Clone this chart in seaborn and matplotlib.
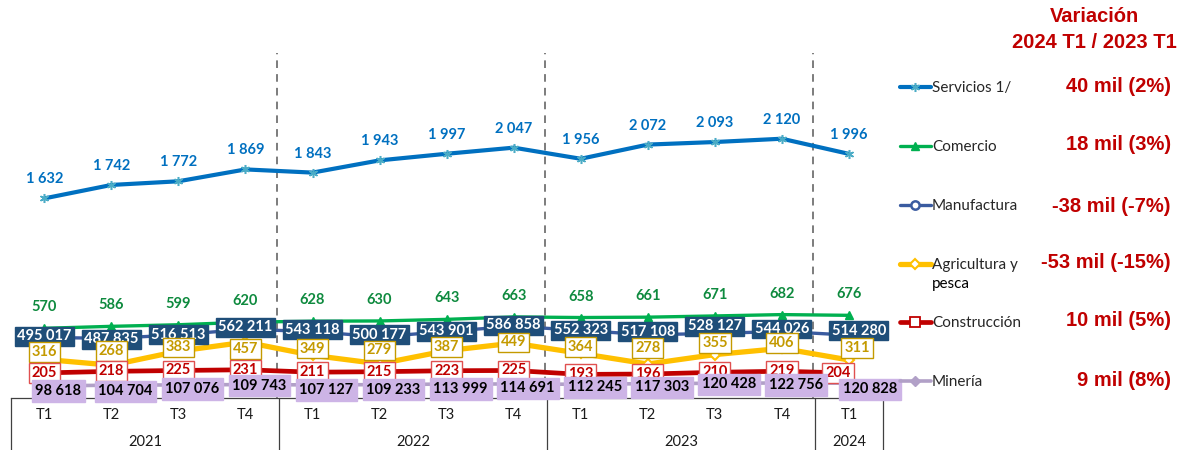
import matplotlib
matplotlib.use("Agg")
import matplotlib.pyplot as plt
import seaborn as sns
import numpy as np
from matplotlib.transforms import blended_transform_factory

# ---------------- data ----------------
quarters = ["T1", "T2", "T3", "T4", "T1", "T2", "T3", "T4",
            "T1", "T2", "T3", "T4", "T1"]
years = ["2021", "2022", "2023", "2024"]
year_sizes = [4, 4, 4, 1]

servicios = [1632, 1742, 1772, 1869, 1843, 1943, 1997, 2047, 1956, 2072, 2093, 2120, 1996]
comercio = [570, 586, 599, 620, 628, 630, 643, 663, 658, 661, 671, 682, 676]
manufactura = [495017, 487835, 516513, 562211, 543118, 500177, 543901, 586858,
               552323, 517108, 528127, 544026, 514280]
agricultura = [316, 268, 383, 457, 349, 279, 387, 449, 364, 278, 355, 406, 311]
construccion = [205, 218, 225, 231, 211, 215, 223, 225, 193, 196, 210, 219, 204]
mineria = [98618, 104704, 107076, 109743, 107127, 109233, 113999, 114691,
           112245, 117303, 120428, 122756, 120828]

series_names = ["Servicios 1/", "Comercio", "Manufactura", "Agricultura y",
                "Construcción", "Minería"]
variaciones = ["40 mil (2%)", "18 mil (3%)", "-38 mil (-7%)", "-53 mil (-15%)",
               "10 mil (5%)", "9 mil (8%)"]

# ---------------- style ----------------
sns.set_style("white")
plt.rcParams["font.family"] = ["Lato", "DejaVu Sans"]

FIG_W, FIG_H = 1184, 450
fig = plt.figure(figsize=(FIG_W / 100, FIG_H / 100), dpi=100)
ax_left, ax_right, ax_top, ax_bot = 10.8, 882.5, 53, 398
ax = fig.add_axes([ax_left / FIG_W, (FIG_H - ax_bot) / FIG_H,
                   (ax_right - ax_left) / FIG_W, (ax_bot - ax_top) / FIG_H])

x = np.arange(len(quarters))

def fmt(v):
    return f"{v:,}".replace(",", " ")

# label offsets (pixels) – layout only
manu_dy = [1, -1, 0, 2, 2, 2, 0, 1, 0, 3, 7, 2.5, 4.5]
manu_dx = [0] * 12 + [10]
agri_dy = [7.4, 14, 3.7, -7, 6.8, 13.4, 4, 0.6, 6.5, 16, 11.6, 5.3, 11.7]
agri_dx = [0] * 12 + [8]
cons_dx = [0] * 12 + [-11]
mine_dx = [14] * 12 + [21]
mine_dy = [-5, -6, -4, -1, -5, -5, -5, -4.5, -3, -3.5, -1, -2, -6]

styles = [
    dict(vals=servicios, scale=1, color="#0070C0", lw=3.0, marker=(6, 2, 0), ms=6.5,
         mfc="#4BACC6", mec="#4BACC6", mew=1.1,
         tcolor="#0070C0", fc="none", ec="none", dx=0, dy=19, pad=0.1),
    dict(vals=comercio, scale=1, color="#00B050", lw=2.4, marker="^", ms=5.5,
         mfc="#00B050", mec="#00B050", mew=1.0,
         tcolor="#0E8A3E", fc="none", ec="none", dx=0, dy=21, pad=0.1),
    dict(vals=manufactura, scale=1000, color="#3A5BA0", lw=2.4, marker="o", ms=6,
         mfc="white", mec="#3A5BA0", mew=1.8,
         tcolor="white", fc="#1F4E79", ec="#1F4E79", dx=manu_dx, dy=manu_dy, pad=0.16),
    dict(vals=agricultura, scale=1, color="#FFC000", lw=3.8, marker="D", ms=5.5,
         mfc="white", mec="#FFC000", mew=1.5,
         tcolor="#C49A00", fc="white", ec="#C49A00", dx=agri_dx,
         dy=agri_dy, pad=0.2),
    dict(vals=construccion, scale=1, color="#C00000", lw=3.4, marker="s", ms=7,
         mfc="white", mec="#C00000", mew=1.3,
         tcolor="#C00000", fc="white", ec="#E05050", dx=cons_dx, dy=0, pad=0.2),
    dict(vals=mineria, scale=1000, color="#B1A0C7", lw=2.6, marker="D", ms=5.5,
         mfc="#B1A0C7", mec="#B1A0C7", mew=1.0,
         tcolor="black", fc="#CDB4E6", ec="#CDB4E6", dx=mine_dx, dy=mine_dy, pad=0.25),
]

def pick(v, i):
    return v[i] if isinstance(v, list) else v

handles = []
for st in styles:
    yv = np.array(st["vals"], dtype=float) / st["scale"]
    sns.lineplot(x=x, y=yv, ax=ax, color=st["color"], lw=st["lw"],
                 marker=st["marker"], markersize=st["ms"],
                 markerfacecolor=st["mfc"], markeredgecolor=st["mec"],
                 markeredgewidth=st["mew"], zorder=3)
    handles.append(ax.lines[-1])

for st in styles:
    yv = np.array(st["vals"], dtype=float) / st["scale"]
    for i, (xi, yi) in enumerate(zip(x, yv)):
        ax.annotate(fmt(st["vals"][i]), (xi, yi),
                    xytext=(pick(st["dx"], i), pick(st["dy"], i)),
                    textcoords="offset pixels", ha="center", va="center",
                    fontsize=10.5, fontweight="bold", color=st["tcolor"],
                    bbox=dict(boxstyle=f"square,pad={st['pad']}", fc=st["fc"],
                              ec=st["ec"], lw=1.0),
                    zorder=5)

# axes formatting
ax.set_xlim(-0.5, len(quarters) - 0.5)
ax.set_ylim(0, (ax_bot - ax_top) / 0.1223)
ax.set_yticks([])
ax.set_ylabel("")
ax.set_xticks(x)
ax.set_xticklabels(quarters, fontsize=10.5, color="#1a1a1a")
ax.tick_params(axis="x", length=0, pad=7)
for s in ["top", "left", "right"]:
    ax.spines[s].set_visible(False)
ax.spines["bottom"].set_color("#404040")
ax.spines["bottom"].set_linewidth(0.9)
ax.set_facecolor("none")

bounds = np.cumsum([0] + year_sizes) - 0.5
for b in bounds:
    ax.axvline(b, ymin=-0.16, ymax=0, color="#404040", lw=0.9, clip_on=False)
for b in bounds[1:-1]:
    ax.axvline(b - 0.03, color="#595959", lw=1.1, ls=(0, (5, 4)), zorder=1)

trans = blended_transform_factory(ax.transData, ax.transAxes)
start = 0
for yr, n in zip(years, year_sizes):
    ax.text(start + (n - 1) / 2, (ax_bot - 442) / (ax_bot - ax_top), yr,
            transform=trans, ha="center", va="center", fontsize=10.5, color="#1a1a1a")
    start += n

# legend rows
row_y = [88, 147, 206, 265, 323, 382]
for h, name, yy in zip(handles, series_names, row_y):
    fig.legend(handles=[h], labels=[name], loc="center left",
               bbox_to_anchor=(900 / FIG_W, 1 - yy / FIG_H),
               frameon=False, fontsize=11, handlelength=2.0,
               handletextpad=0.1, borderpad=0, borderaxespad=0)
fig.text(932 / FIG_W, 1 - 284 / FIG_H, "pesca", ha="left", va="center",
         fontsize=11, color="black")

red = "#C00000"
fig.text(1094 / FIG_W, 1 - 16 / FIG_H, "Variación", ha="center", va="center",
         fontsize=14.5, fontweight="bold", color=red, family="Liberation Sans")
fig.text(1094 / FIG_W, 1 - 42 / FIG_H, "2024 T1 / 2023 T1", ha="center",
         va="center", fontsize=14.5, fontweight="bold", color=red,
         family="Liberation Sans")
var_y = [86, 145, 206, 263, 321, 381]
for txt, yy in zip(variaciones, var_y):
    fig.text(1171 / FIG_W, 1 - yy / FIG_H, txt, ha="right", va="center",
             fontsize=14.5, fontweight="bold", color=red, family="Liberation Sans")

fig.savefig("out.png", dpi=100)
